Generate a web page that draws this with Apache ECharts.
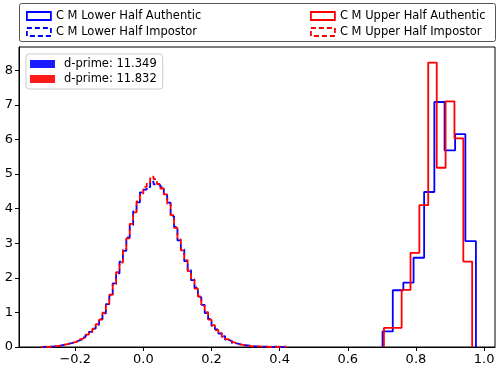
<!DOCTYPE html>
<html>
<head>
<meta charset="utf-8">
<script src="https://cdn.jsdelivr.net/npm/echarts@6/dist/echarts.min.js"></script>
<style>
  html, body { margin: 0; padding: 0; background: #fff; }
  #chart { width: 500px; height: 371px; }
</style>
</head>
<body>
<div id="chart"></div>
<script>
// genuine (authentic) scores: bin edges + density heights
const lowerAuthEdges = [0.702, 0.732, 0.763, 0.793, 0.824, 0.854, 0.884, 0.915, 0.945, 0.976]
const lowerAuthHeights = [0.45, 1.64, 1.86, 2.58, 4.48, 7.08, 5.68, 6.15, 3.06]
const upperAuthEdges = [0.706, 0.732, 0.758, 0.784, 0.810, 0.836, 0.861, 0.887, 0.913, 0.939, 0.965]
const upperAuthHeights = [0.55, 0.55, 1.65, 2.72, 4.10, 8.22, 5.18, 7.10, 6.03, 2.47]

// impostor scores: fine bins starting at -0.30, width 0.01
const impStart = -0.30
const impBin = 0.01
const lowerImpHeights = [
  0.00, 0.01, 0.01, 0.02, 0.03, 0.05, 0.07, 0.09, 0.11, 0.14,
  0.18, 0.22, 0.28, 0.34, 0.44, 0.53, 0.64, 0.81, 0.97, 1.24,
  1.48, 1.84, 2.13, 2.47, 2.78, 3.17, 3.52, 3.92, 4.18, 4.47,
  4.55, 4.62, 4.78, 4.70, 4.68, 4.62, 4.38, 4.17, 3.78, 3.47,
  3.08, 2.82, 2.48, 2.22, 1.93, 1.72, 1.44, 1.22, 0.98, 0.81,
  0.61, 0.51, 0.39, 0.31, 0.21, 0.17, 0.11, 0.09, 0.06, 0.05,
  0.04, 0.03, 0.02, 0.01, 0.01, 0.01, 0.01, 0.00, 0.01, 0.00,
  0.00, 0.00
]
const upperImpHeights = [
  0.00, 0.00, 0.01, 0.02, 0.03, 0.04, 0.07, 0.09, 0.12, 0.14,
  0.17, 0.23, 0.28, 0.36, 0.43, 0.52, 0.66, 0.79, 0.99, 1.21,
  1.51, 1.81, 2.16, 2.44, 2.81, 3.14, 3.56, 3.89, 4.21, 4.44,
  4.63, 4.76, 4.92, 4.85, 4.71, 4.58, 4.41, 4.14, 3.81, 3.44,
  3.11, 2.79, 2.51, 2.19, 1.96, 1.69, 1.46, 1.19, 1.01, 0.79,
  0.63, 0.49, 0.41, 0.29, 0.23, 0.16, 0.12, 0.08, 0.07, 0.04,
  0.04, 0.02, 0.02, 0.02, 0.01, 0.01, 0.00, 0.01, 0.00, 0.01,
  0.01, 0.01
]

const xTicks = [-0.2, 0.0, 0.2, 0.4, 0.6, 0.8, 1.0]
const yTicks = [0, 1, 2, 3, 4, 5, 6, 7, 8]
const dprimes = ['d-prime: 11.349', 'd-prime: 11.832']

const names = [
  'C M Lower Half Authentic',
  'C M Lower Half Impostor',
  'C M Upper Half Authentic',
  'C M Upper Half Impostor'
]

// histtype='step' outline
function stepPath(edges, heights) {
  let pts = [[edges[0], 0]]
  heights.forEach((h, i) => {
    pts.push([edges[i], h], [edges[i + 1], h])
  })
  pts.push([edges[edges.length - 1], 0])
  return pts
}

function impEdges(n) {
  let e = []
  for (let i = 0; i <= n; i++) e.push(+(impStart + i * impBin).toFixed(4))
  return e
}

const BLUE = '#0000ff'
const RED = '#ff0000'
const font = 'DejaVu Sans'

function lineSeries(name, data, color, dashed, offset) {
  return {
    name: name,
    type: 'line',
    data: data,
    showSymbol: false,
    symbol: 'none',
    silent: true,
    lineStyle: {
      color: color,
      width: 1.8,
      type: dashed ? [6, 3] : 'solid',
      dashOffset: offset || 0
    },
    itemStyle: { color: color }
  }
}

function legendItem(name, color, dashed) {
  return {
    name: name,
    icon: 'rect',
    itemStyle: {
      color: 'rgba(0,0,0,0)',
      borderColor: color,
      borderWidth: 1.8,
      borderType: dashed ? [5, 3] : 'solid'
    }
  }
}

const chart = echarts.init(document.getElementById('chart'), null, { renderer: 'canvas' })

const option = {
  animation: false,
  backgroundColor: '#fff',
  textStyle: { fontFamily: font },
  grid: {
    left: 19, right: 5, top: 47, bottom: 24,
    show: true, borderColor: '#000', borderWidth: 1
  },
  graphic: [{
    type: 'rect',
    shape: { x: 19.5, y: 3.5, width: 476, height: 38, r: 2 },
    style: { fill: '#fff', stroke: '#555', lineWidth: 1 },
    silent: true
  }],
  legend: [
    {
      orient: 'vertical', left: 21, top: 5, itemGap: 4,
      itemWidth: 24, itemHeight: 8,
      textStyle: { fontSize: 11.5, color: '#000', fontFamily: font },
      data: [legendItem(names[0], BLUE, false), legendItem(names[1], BLUE, true)]
    },
    {
      orient: 'vertical', left: 305, top: 5, itemGap: 4,
      itemWidth: 24, itemHeight: 8,
      textStyle: { fontSize: 11.5, color: '#000', fontFamily: font },
      data: [legendItem(names[2], RED, false), legendItem(names[3], RED, true)]
    },
    {
      orient: 'vertical', left: 26, top: 54, itemGap: 3,
      itemWidth: 25, itemHeight: 8,
      padding: [4, 6, 4, 4],
      borderColor: '#cccccc', borderWidth: 1, borderRadius: 3,
      backgroundColor: 'rgba(255,255,255,0.8)',
      textStyle: { fontSize: 11.5, color: '#000', fontFamily: font, padding: [0, 0, 0, 4] },
      data: [
        { name: dprimes[0], icon: 'rect', itemStyle: { color: '#1a1aff' } },
        { name: dprimes[1], icon: 'rect', itemStyle: { color: '#ff1a1a' } }
      ]
    }
  ],
  xAxis: {
    type: 'value',
    min: -0.365,
    max: 1.032,
    splitLine: { show: false },
    axisLine: { onZero: false, lineStyle: { color: '#000' } },
    axisTick: { show: true, length: 4, lineStyle: { color: '#000' }, customValues: xTicks },
    axisLabel: {
      color: '#000', fontSize: 13, margin: 6, fontFamily: font,
      customValues: xTicks,
      formatter: v => (v < 0 ? '\u2212' : '') + Math.abs(v).toFixed(1)
    }
  },
  yAxis: {
    type: 'value',
    min: 0,
    max: 8.67,
    splitLine: { show: false },
    axisLine: { show: true, onZero: false, lineStyle: { color: '#000' } },
    axisTick: { show: true, length: 4, lineStyle: { color: '#000' }, customValues: yTicks },
    axisLabel: {
      color: '#000', fontSize: 13, margin: 6, fontFamily: font,
      customValues: yTicks
    }
  },
  series: [
    lineSeries(names[0], stepPath(lowerAuthEdges, lowerAuthHeights), BLUE, false),
    lineSeries(names[1], stepPath(impEdges(lowerImpHeights.length), lowerImpHeights), BLUE, true, 0),
    lineSeries(names[2], stepPath(upperAuthEdges, upperAuthHeights), RED, false),
    lineSeries(names[3], stepPath(impEdges(upperImpHeights.length), upperImpHeights), RED, true, 4),
    { name: dprimes[0], type: 'bar', data: [], itemStyle: { color: '#1a1aff' } },
    { name: dprimes[1], type: 'bar', data: [], itemStyle: { color: '#ff1a1a' } }
  ]
}

chart.setOption(option)
</script>
</body>
</html>
